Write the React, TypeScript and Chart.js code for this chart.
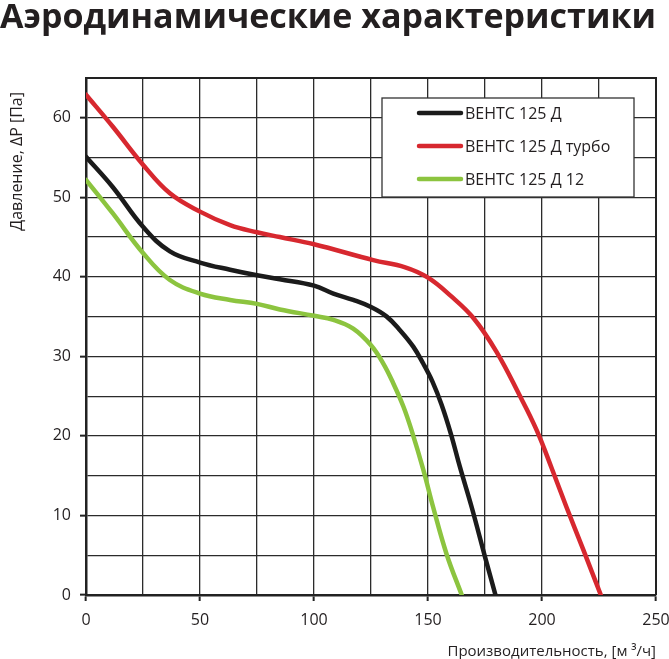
import { useEffect, useRef } from 'react';
import { Chart, registerables, Plugin } from 'chart.js';

Chart.register(...registerables);

const TITLE = 'Аэродинамические характеристики';
const X_TITLE = 'Производительность, [м ³/ч]';
const Y_TITLE = 'Давление, ΔP [Па]';
const FONT = '"Open Sans", "DejaVu Sans", sans-serif';
const TEXT = '#231f20';

const seriesNames = ['ВЕНТС 125 Д', 'ВЕНТС 125 Д турбо', 'ВЕНТС 125 Д 12'];
const seriesColors = ['#1b1b1b', '#d7282f', '#8cc43f'];

// ВЕНТС 125 Д
const flowStd = [0, 11.7, 25, 36.8, 50, 63.2, 75, 85, 100, 108.5, 117.2, 125, 131.9, 137.7, 143.6, 147.9, 152, 156, 160, 164, 169.2, 175, 179.6];
const pressureStd = [55.1, 51.3, 46.3, 43.2, 41.8, 40.9, 40.2, 39.7, 38.9, 37.9, 37.1, 36.2, 35, 33.3, 31.2, 29.1, 26.8, 23.9, 20.3, 16.1, 11, 4.8, 0];

// ВЕНТС 125 Д турбо
const flowTurbo = [0, 11.7, 25, 36.8, 50, 63.2, 75, 85, 100, 126, 140, 150, 160, 170, 180, 190, 197.7, 204.3, 210.8, 218.1, 225.8];
const pressureTurbo = [62.9, 58.9, 54.1, 50.5, 48.2, 46.5, 45.6, 45, 44.1, 42.1, 41.2, 39.9, 37.6, 34.8, 30.6, 25.2, 20.7, 15.9, 11, 5.7, 0];

// ВЕНТС 125 Д 12
const flow12 = [0, 11.7, 25, 36.8, 50, 63.2, 75, 85, 100, 108.5, 117.2, 125, 130.4, 134.8, 139.2, 142.8, 147.9, 152.3, 158.2, 164.8];
const pressure12 = [52.2, 48, 43, 39.6, 37.9, 37.1, 36.6, 35.9, 35.1, 34.6, 33.5, 31.4, 29.1, 26.6, 23.7, 20.7, 15.8, 11, 5.1, 0];

const seriesFlow = [flowStd, flowTurbo, flow12];
const seriesPressure = [pressureStd, pressureTurbo, pressure12];

function fitTitleSize(): number {
  const c = document.createElement('canvas').getContext('2d');
  if (!c) return 34;
  c.font = `bold 100px ${FONT}`;
  return Math.round((1000 * 665) / c.measureText(TITLE).width) / 10;
}

// legend box inside the plot, plus the top/right frame and the y title
const decorations: Plugin<'line'> = {
  id: 'decorations',
  afterDatasetsDraw(chart) {
    const { ctx, chartArea: ca } = chart;
    ctx.save();
    ctx.strokeStyle = '#222';
    ctx.lineWidth = 2;
    ctx.beginPath();
    ctx.moveTo(ca.left, ca.top);
    ctx.lineTo(ca.right, ca.top);
    ctx.lineTo(ca.right, ca.bottom);
    ctx.stroke();

    const bx = ca.left + 296;
    const by = ca.top + 20;
    ctx.fillStyle = '#fff';
    ctx.fillRect(bx, by, 252, 99);
    ctx.lineWidth = 1.3;
    ctx.strokeStyle = '#333';
    ctx.strokeRect(bx, by, 252, 99);

    ctx.font = `16px ${FONT}`;
    ctx.textBaseline = 'middle';
    ctx.textAlign = 'left';
    chart.data.datasets.forEach((ds, i) => {
      const y = by + 15 + i * 33;
      ctx.strokeStyle = ds.borderColor as string;
      ctx.lineWidth = 4.5;
      ctx.lineCap = 'round';
      ctx.beginPath();
      ctx.moveTo(bx + 37, y);
      ctx.lineTo(bx + 79, y);
      ctx.stroke();
      ctx.fillStyle = TEXT;
      ctx.fillText(ds.label as string, bx + 83, y + 1);
    });

    ctx.translate(17, 92);
    ctx.rotate(-Math.PI / 2);
    ctx.font = `16px ${FONT}`;
    ctx.textAlign = 'right';
    ctx.fillText(Y_TITLE, 0, 0);
    ctx.restore();
  },
};

const App = () => {
  const chartRef = useRef<HTMLCanvasElement>(null);
  const chartInstanceRef = useRef<Chart<'line'> | null>(null);

  useEffect(() => {
    document.body.style.margin = '0';
    if (!chartRef.current) return;
    if (chartInstanceRef.current) chartInstanceRef.current.destroy();

    const titleSize = fitTitleSize();
    const padTop = Math.max(0, Math.round(18 - titleSize / 2));
    const padBottom = 78 - titleSize - padTop;

    const tickFont = { family: FONT, size: 16 };

    chartInstanceRef.current = new Chart(chartRef.current, {
      type: 'line',
      data: {
        datasets: seriesNames.map((name, i) => ({
          label: name,
          data: seriesFlow[i].map((x, j) => ({ x, y: seriesPressure[i][j] })),
          borderColor: seriesColors[i],
          backgroundColor: seriesColors[i],
          borderWidth: 4.5,
          borderCapStyle: 'round' as const,
          borderJoinStyle: 'round' as const,
          pointRadius: 0,
          tension: 0.4,
        })),
      },
      options: {
        responsive: false,
        animation: false,
        layout: { padding: { left: 0, right: 13, top: 0, bottom: 0 } },
        plugins: {
          legend: { display: false },
          tooltip: { enabled: false },
          title: {
            display: true,
            text: TITLE,
            align: 'start',
            color: TEXT,
            font: { family: FONT, size: titleSize, weight: 'bold', lineHeight: 1 },
            padding: { top: padTop, bottom: padBottom },
          },
        },
        scales: {
          x: {
            type: 'linear',
            min: 0,
            max: 250,
            afterFit: (s) => {
              s.height = 64;
              s.paddingLeft = 0;
              s.paddingRight = 0;
            },
            ticks: {
              stepSize: 25,
              autoSkip: false,
              maxRotation: 0,
              padding: 10,
              color: TEXT,
              font: tickFont,
              callback: (v) => (Number(v) % 50 === 0 ? String(v) : ''),
            },
            grid: {
              color: '#2b2b2b',
              lineWidth: 1.3,
              tickLength: 6,
              tickWidth: 2,
              tickColor: (c) => (c.tick && c.tick.value % 50 === 0 ? '#222' : 'rgba(0,0,0,0)'),
            },
            border: { color: '#222', width: 2.5 },
            title: {
              display: true,
              text: X_TITLE,
              align: 'end',
              color: TEXT,
              font: { family: FONT, size: 15, lineHeight: 1 },
              padding: 0,
            },
          },
          y: {
            type: 'linear',
            min: 0,
            max: 65,
            afterFit: (s) => {
              s.width = 86;
            },
            ticks: {
              stepSize: 5,
              autoSkip: false,
              padding: 9,
              color: TEXT,
              font: tickFont,
              callback: (v) => (Number(v) % 10 === 0 ? String(v) : ''),
            },
            grid: {
              color: '#2b2b2b',
              lineWidth: 1.3,
              tickLength: 6,
              tickWidth: 2,
              tickColor: (c) => (c.tick && c.tick.value % 10 === 0 ? '#222' : 'rgba(0,0,0,0)'),
            },
            border: { color: '#222', width: 2.5 },
          },
        },
      },
      plugins: [decorations],
    });

    return () => {
      if (chartInstanceRef.current) chartInstanceRef.current.destroy();
      chartInstanceRef.current = null;
    };
  }, []);

  return (
    <div style={{ width: 669, height: 659, background: '#fff' }}>
      <canvas ref={chartRef} width={669} height={659} style={{ display: 'block' }} />
    </div>
  );
};

export default App;
